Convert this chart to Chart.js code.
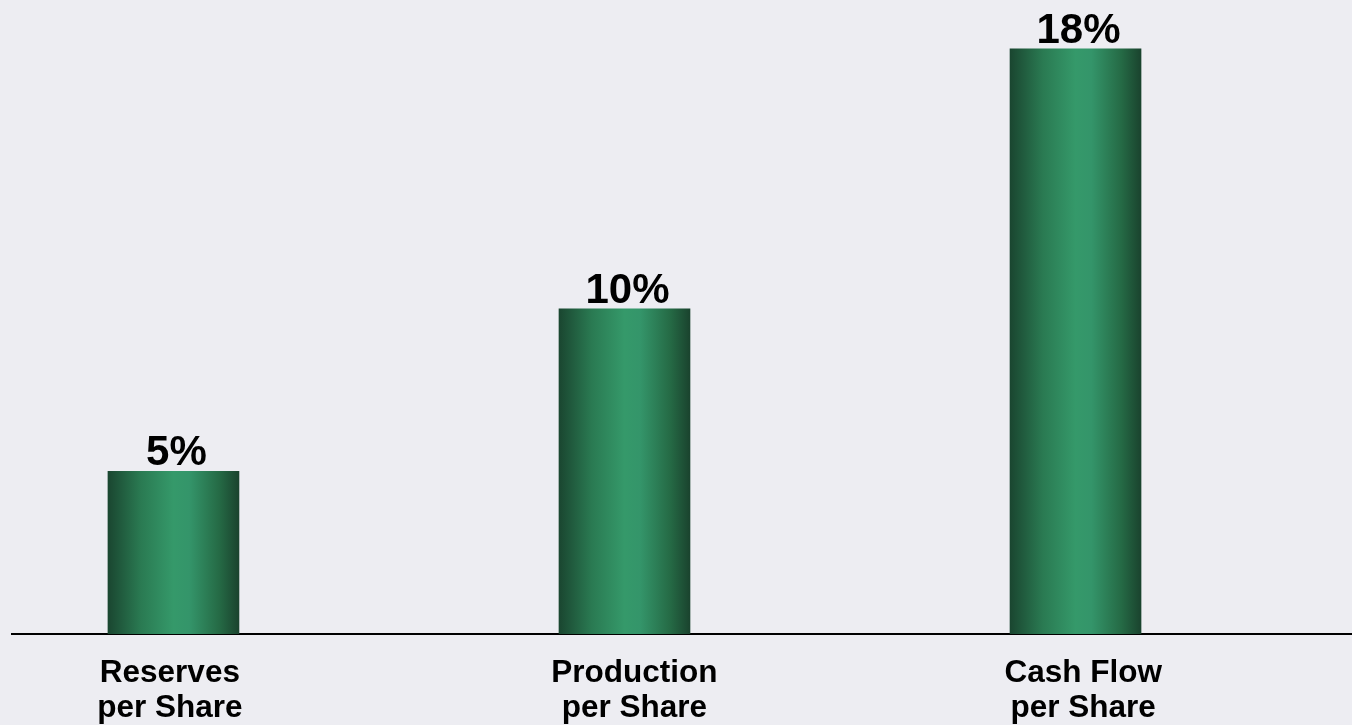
<!DOCTYPE html>
<html>
<head>
<meta charset="utf-8">
<script src="https://cdn.jsdelivr.net/npm/chart.js@4.4.1/dist/chart.umd.min.js"></script>
<style>
  html, body { margin: 0; padding: 0; background: #EDEDF2; }
  #wrap { width: 1352px; height: 725px; position: relative; }
</style>
</head>
<body>
<div id="wrap"><canvas id="myChart"></canvas></div>
<script>
"use strict";
const categories = [["Reserves", "per Share"], ["Production", "per Share"], ["Cash Flow", "per Share"]];
const values = [5, 10, 18];
const valueLabels = ["5%", "10%", "18%"];
// labels sit a little off the bar centres in the original
const labelPositions = [-0.008, 1.022, 2.017];

// gradient across each bar, dark edges and lighter middle
function barGradient(context) {
  const chart = context.chart;
  if (!chart.chartArea || !chart.scales.x) return "#2e8a5e";
  const x = chart.scales.x.getPixelForValue(context.dataIndex);
  const half = 65.5;
  const g = chart.ctx.createLinearGradient(x - half, 0, x + half, 0);
  g.addColorStop(0, "#1a4630");
  g.addColorStop(0.25, "#2a7a52");
  g.addColorStop(0.5, "#35996a");
  g.addColorStop(0.62, "#34956a");
  g.addColorStop(0.85, "#256a45");
  g.addColorStop(1, "#1a432e");
  return g;
}

const valueLabelPlugin = {
  id: "valueLabels",
  afterDatasetsDraw(chart) {
    const ctx = chart.ctx;
    const meta = chart.getDatasetMeta(0);
    ctx.save();
    ctx.font = "bold 42px 'Liberation Sans', Arial, sans-serif";
    ctx.fillStyle = "#000";
    ctx.textAlign = "center";
    ctx.textBaseline = "alphabetic";
    meta.data.forEach(function(bar, i) {
      ctx.fillText(valueLabels[i], bar.x + 3, bar.y - 6);
    });
    ctx.restore();
  }
};

let myChart = document.getElementById("myChart").getContext("2d");
var barChart = new Chart(myChart, {
  type: "bar",
  data: {
    datasets: [{
      data: values.map(function(v, i) { return { x: i, y: v }; }),
      backgroundColor: barGradient,
      barThickness: 131,
      borderWidth: 0
    }]
  },
  options: {
    responsive: true,
    maintainAspectRatio: false,
    animation: false,
    layout: { padding: { left: 12, right: 0, top: 0, bottom: 0 } },
    plugins: { legend: { display: false }, tooltip: { enabled: false } },
    scales: {
      x: {
        type: "linear",
        offset: false,
        min: -0.358,
        max: 2.613,
        afterBuildTicks: function(scale) {
          scale.ticks = labelPositions.map(function(p) { return { value: p }; });
        },
        afterFit: function(scale) {
          scale.height = 91;
        },
        grid: { display: false, drawTicks: false },
        border: { display: true, color: "#000", width: 2 },
        ticks: {
          padding: 22,
          color: "#000",
          autoSkip: false,
          maxRotation: 0,
          font: { family: "'Liberation Sans', Arial, sans-serif", size: 31.5, weight: "bold", lineHeight: 1.11 },
          callback: function(v, i) { return categories[i]; }
        }
      },
      y: {
        display: false,
        min: 0,
        max: 19.5
      }
    }
  },
  plugins: [valueLabelPlugin]
});
</script>
</body>
</html>
